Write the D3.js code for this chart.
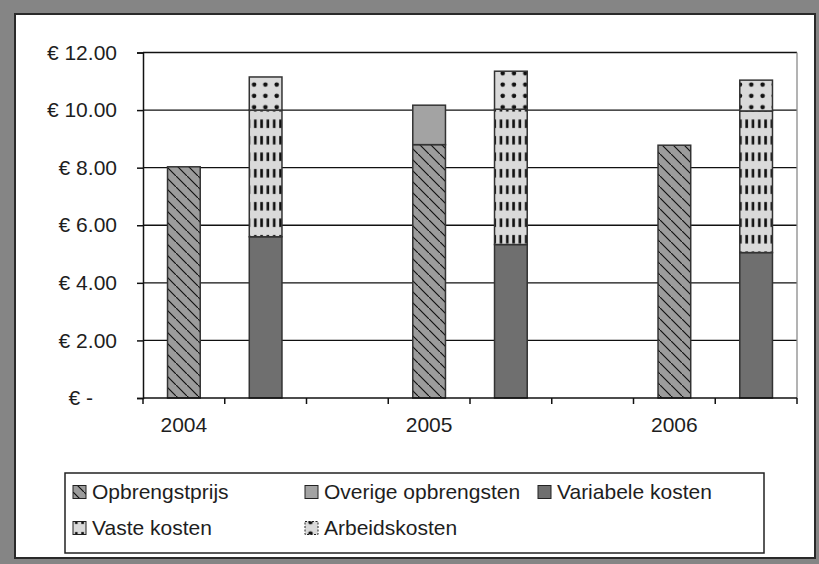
<!DOCTYPE html>
<html>
<head>
<meta charset="utf-8">
<script src="https://cdn.jsdelivr.net/npm/d3@7"></script>
<style>
  body { margin: 0; background: #fff; }
  svg { display: block; }
  text { font-family: "Liberation Sans", Arial, sans-serif; fill: #1e1e1e; }
</style>
</head>
<body>
<div id="chart"></div>
<script>
// chart values
const years = ['2004', '2005', '2006'];
const opbrengstprijs = [8.03, 8.80, 8.78];
const overigeOpbrengsten = [0, 1.37, 0];
const variabeleKosten = [5.60, 5.33, 5.05];
const vasteKosten = [4.40, 4.70, 4.92];
const arbeidskosten = [1.15, 1.32, 1.07];
const yTicks = [0, 2, 4, 6, 8, 10, 12];
const legendLabels = ['Opbrengstprijs', 'Overige opbrengsten', 'Variabele kosten', 'Vaste kosten', 'Arbeidskosten'];

const W = 819, H = 564;
const plot = { left: 143, right: 797, top: 52.5, bottom: 398 };
const fontSize = 21;

const svg = d3.select('#chart').append('svg')
  .attr('width', W).attr('height', H);

// patterns
const defs = svg.append('defs');
const diag = defs.append('pattern').attr('id', 'p-opbr')
  .attr('patternUnits', 'userSpaceOnUse').attr('width', 11).attr('height', 11);
diag.append('rect').attr('width', 11).attr('height', 11).attr('fill', '#9c9c9c');
diag.append('path').attr('d', 'M-1,-1L12,12M-6.5,5.5L5.5,17.5M5.5,-6.5L17.5,5.5')
  .attr('stroke', '#111').attr('stroke-width', 1.2);

const vaste = defs.append('pattern').attr('id', 'p-vaste')
  .attr('patternUnits', 'userSpaceOnUse').attr('width', 6.3).attr('height', 16.5);
vaste.append('rect').attr('width', 6.3).attr('height', 16.5).attr('fill', '#dadada');
vaste.append('rect').attr('x', 2).attr('y', 4).attr('width', 2.6).attr('height', 8.5).attr('fill', '#111');

const dots = defs.append('pattern').attr('id', 'p-arb')
  .attr('patternUnits', 'userSpaceOnUse').attr('width', 11.3).attr('height', 11.3);
dots.append('rect').attr('width', 11.3).attr('height', 11.3).attr('fill', '#dadada');
dots.append('circle').attr('cx', 5.5).attr('cy', 5.5).attr('r', 2.3).attr('fill', '#111');

const fills = {
  opbrengstprijs: 'url(#p-opbr)',
  overige: '#a3a3a3',
  variabele: '#6f6f6f',
  vaste: 'url(#p-vaste)',
  arbeids: 'url(#p-arb)'
};

// frame
svg.append('rect').attr('width', W).attr('height', H).attr('fill', '#858585');
svg.append('rect').attr('x', 15).attr('y', 14).attr('width', 800).attr('height', 544)
  .attr('fill', '#fff').attr('stroke', '#2a2a2a').attr('stroke-width', 2);

// slots: revenue bar, cost bar, empty gap between years
const slots = years.flatMap((yr, i) =>
  i < years.length - 1 ? [yr + '|o', yr + '|k', yr + '|_'] : [yr + '|o', yr + '|k']);

const x = d3.scaleBand().domain(slots).range([plot.left, plot.right]).paddingInner(0).paddingOuter(0);
const y = d3.scaleLinear().domain([0, 12]).range([plot.bottom, plot.top]);
const barW = x.bandwidth() * 0.4;

// grid lines
svg.append('g').selectAll('line').data(yTicks.filter(d => d > 0)).join('line')
  .attr('x1', plot.left).attr('x2', plot.right)
  .attr('y1', d => y(d)).attr('y2', d => y(d))
  .attr('stroke', '#111').attr('stroke-width', 1.3);
svg.append('line').attr('x1', plot.right).attr('x2', plot.right)
  .attr('y1', plot.top).attr('y2', plot.bottom)
  .attr('stroke', '#8a8a8a').attr('stroke-width', 1.3);

// stacked bars
const revRows = years.map((yr, i) => ({ slot: yr + '|o', opbrengstprijs: opbrengstprijs[i], overige: overigeOpbrengsten[i] }));
const costRows = years.map((yr, i) => ({ slot: yr + '|k', variabele: variabeleKosten[i], vaste: vasteKosten[i], arbeids: arbeidskosten[i] }));

const drawStack = (rows, keys) => {
  const layers = d3.stack().keys(keys)(rows);
  layers.forEach(layer => {
    svg.append('g').selectAll('rect').data(layer.filter(d => d[1] - d[0] > 0)).join('rect')
      .attr('x', d => x(d.data.slot) + (x.bandwidth() - barW) / 2)
      .attr('width', barW)
      .attr('y', d => y(d[1]))
      .attr('height', d => y(d[0]) - y(d[1]))
      .attr('fill', fills[layer.key])
      .attr('stroke', '#333').attr('stroke-width', 1.5);
  });
};
drawStack(revRows, ['opbrengstprijs', 'overige']);
drawStack(costRows, ['variabele', 'vaste', 'arbeids']);

// y axis
const yAxis = svg.append('g').attr('transform', `translate(${plot.left},0)`)
  .call(d3.axisLeft(y).tickValues(yTicks).tickSize(6).tickPadding(20)
    .tickFormat(d => d === 0 ? '€ -' : '€ ' + d.toFixed(2)));
yAxis.select('.domain').attr('stroke', '#111').attr('stroke-width', 1.5);
yAxis.selectAll('.tick line').attr('stroke', '#111').attr('stroke-width', 1.5);
yAxis.selectAll('.tick text').attr('font-size', fontSize).attr('fill', '#1e1e1e')
  .attr('font-family', '"Liberation Sans", Arial, sans-serif');
yAxis.selectAll('.tick text').filter(d => d === 0).attr('dx', -24);

// x axis
const xAxis = svg.append('g').attr('transform', `translate(0,${plot.bottom})`)
  .call(d3.axisBottom(x).tickSize(0).tickPadding(19)
    .tickFormat(s => s.endsWith('|o') ? s.split('|')[0] : ''));
xAxis.select('.domain').remove();
xAxis.selectAll('.tick text').attr('font-size', fontSize).attr('fill', '#1e1e1e')
  .attr('font-family', '"Liberation Sans", Arial, sans-serif');
svg.append('line').attr('x1', plot.left).attr('x2', plot.right)
  .attr('y1', plot.bottom).attr('y2', plot.bottom)
  .attr('stroke', '#111').attr('stroke-width', 1.5);
svg.append('g').selectAll('line').data(slots.map(s => x(s)).concat([x.range()[1]])).join('line')
  .attr('x1', d => d).attr('x2', d => d)
  .attr('y1', plot.bottom).attr('y2', plot.bottom + 6)
  .attr('stroke', '#111').attr('stroke-width', 1.5);

// legend
const legend = svg.append('g');
legend.append('rect').attr('x', 65).attr('y', 473).attr('width', 699).attr('height', 80)
  .attr('fill', '#fff').attr('stroke', '#222').attr('stroke-width', 1.5);
const legendFills = [fills.opbrengstprijs, fills.overige, fills.variabele, fills.vaste, fills.arbeids];
const legendPos = [[73, 492], [305, 492], [538, 492], [73, 528], [305, 528]];
const items = legend.selectAll('g.item').data(legendLabels).join('g')
  .attr('class', 'item')
  .attr('transform', (d, i) => `translate(${legendPos[i][0]},${legendPos[i][1]})`);
items.append('rect').attr('x', 0).attr('y', -6.5).attr('width', 13).attr('height', 13)
  .attr('fill', (d, i) => legendFills[i])
  .attr('stroke', '#222').attr('stroke-width', 1)
  .attr('stroke-dasharray', (d, i) => i === 4 ? '2,1.5' : null);
items.append('text').attr('x', 19).attr('dy', '0.35em').attr('font-size', fontSize).text(d => d);
</script>
</body>
</html>
